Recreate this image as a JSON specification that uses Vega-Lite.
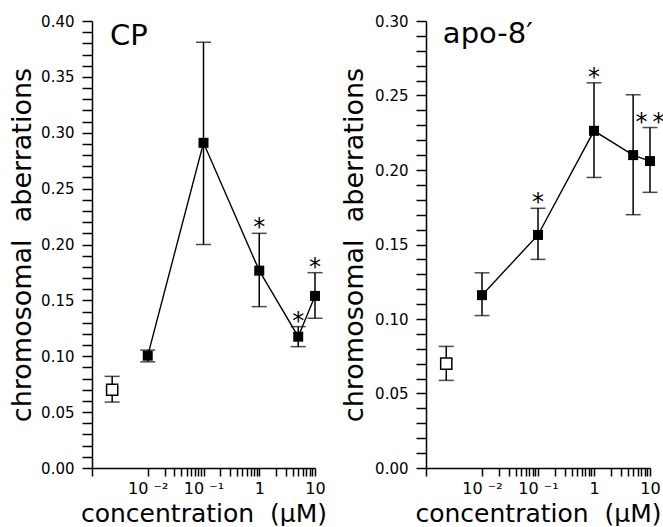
{
  "$schema": "https://vega.github.io/schema/vega-lite/v6.json",
  "padding": {"left": 8, "top": 14, "right": 0, "bottom": 0},
  "background": "white",
  "datasets": {
    "cp": [
      {"group": "control", "conc": 0.0023, "mean": 0.070, "lo": 0.059, "hi": 0.082, "star": ""},
      {"group": "treated", "conc": 0.01, "mean": 0.1005, "lo": 0.095, "hi": 0.1055, "star": ""},
      {"group": "treated", "conc": 0.1, "mean": 0.291, "lo": 0.200, "hi": 0.381, "star": ""},
      {"group": "treated", "conc": 1, "mean": 0.1766, "lo": 0.1444, "hi": 0.210, "star": "*"},
      {"group": "treated", "conc": 5, "mean": 0.1175, "lo": 0.1086, "hi": 0.1265, "star": "*"},
      {"group": "treated", "conc": 10, "mean": 0.154, "lo": 0.134, "hi": 0.1748, "star": "*"}
    ],
    "apo": [
      {"group": "control", "conc": 0.0023, "mean": 0.070, "lo": 0.0588, "hi": 0.0816, "star": ""},
      {"group": "treated", "conc": 0.01, "mean": 0.116, "lo": 0.1023, "hi": 0.131, "star": ""},
      {"group": "treated", "conc": 0.1, "mean": 0.1564, "lo": 0.140, "hi": 0.1743, "star": "*"},
      {"group": "treated", "conc": 1, "mean": 0.2263, "lo": 0.195, "hi": 0.2585, "star": "*"},
      {"group": "treated", "conc": 5, "mean": 0.210, "lo": 0.170, "hi": 0.2505, "star": ""},
      {"group": "treated", "conc": 10, "mean": 0.206, "lo": 0.185, "hi": 0.2285, "star": "*\u2009*"}
    ]
  },
  "hconcat": [
    {
      "width": 223,
      "height": 447,
      "data": {"name": "cp"},
      "layer": [
        {
          "mark": {"type": "rule", "strokeWidth": 1.5, "color": "black"},
          "encoding": {
            "x": {"field": "conc", "type": "quantitative", "scale": {"type": "log", "domain": [0.001, 10], "nice": false},
              "axis": {"orient": "bottom", "values": [0.001, 0.01, 0.02, 0.03, 0.04, 0.05, 0.06, 0.07, 0.08, 0.09, 0.1, 0.2, 0.3, 0.4, 0.5, 0.6, 0.7, 0.8, 0.9, 1, 2, 3, 4, 5, 6, 7, 8, 9, 10],
                "tickCount": 100,
                "labelExpr": "datum.value == 0.01 ? '10 ⁻²' : datum.value == 0.1 ? '10 ⁻¹' : datum.value == 1 ? '1' : datum.value == 10 ? '10' : ''",
                "tickSize": 8,
                "encode": {"ticks": {"y2": {"condition": {"test": "indexof([0.001, 0.01, 0.1, 1, 10], datum.value) >= 0", "value": 8}, "value": 5}}},
                "labelPadding": 4, "labelFontSize": 16, "labelFlush": false, "labelOverlap": false,
                "title": "concentration\u00a0 (µM)", "titleFontSize": 25, "titlePadding": 5}},
            "y": {"field": "lo", "type": "quantitative", "scale": {"domain": [0, 0.4], "nice": false, "zero": false},
              "axis": {"orient": "left", "values": [0, 0.01, 0.02, 0.03, 0.04, 0.05, 0.06, 0.07, 0.08, 0.09, 0.1, 0.11, 0.12, 0.13, 0.14, 0.15, 0.16, 0.17, 0.18, 0.19, 0.2, 0.21, 0.22, 0.23, 0.24, 0.25, 0.26, 0.27, 0.28, 0.29, 0.3, 0.31, 0.32, 0.33, 0.34, 0.35, 0.36, 0.37, 0.38, 0.39, 0.4],
                "tickCount": 100,
                "labelExpr": "abs(datum.value * 20 - round(datum.value * 20)) < 0.001 ? format(datum.value, '.2f') : ''",
                "tickSize": 10,
                "encode": {"ticks": {"x2": {"condition": {"test": "abs(datum.value * 20 - round(datum.value * 20)) < 0.001", "value": -10}, "value": -5}}},
                "labelPadding": 8, "labelFontSize": 15, "labelFlush": false, "labelOverlap": false,
                "title": "chromosomal\u00a0 aberrations", "titleFontSize": 27, "titlePadding": 4}},
            "y2": {"field": "hi"}
          }
        },
        {
          "mark": {"type": "tick", "orient": "horizontal", "size": 15, "thickness": 1.5, "color": "black"},
          "encoding": {
            "x": {"field": "conc", "type": "quantitative", "scale": {"type": "log", "domain": [0.001, 10], "nice": false}},
            "y": {"field": "hi", "type": "quantitative", "scale": {"domain": [0, 0.4], "nice": false, "zero": false}}
          }
        },
        {
          "mark": {"type": "tick", "orient": "horizontal", "size": 15, "thickness": 1.5, "color": "black"},
          "encoding": {
            "x": {"field": "conc", "type": "quantitative", "scale": {"type": "log", "domain": [0.001, 10], "nice": false}},
            "y": {"field": "lo", "type": "quantitative", "scale": {"domain": [0, 0.4], "nice": false, "zero": false}}
          }
        },
        {
          "transform": [{"filter": "datum.group == 'treated'"}],
          "mark": {"type": "line", "strokeWidth": 1.4, "color": "black"},
          "encoding": {
            "x": {"field": "conc", "type": "quantitative", "scale": {"type": "log", "domain": [0.001, 10], "nice": false}},
            "y": {"field": "mean", "type": "quantitative", "scale": {"domain": [0, 0.4], "nice": false, "zero": false}}
          }
        },
        {
          "transform": [{"filter": "datum.group == 'treated'"}],
          "mark": {"type": "point", "shape": "square", "size": 100, "filled": true, "color": "black", "opacity": 1},
          "encoding": {
            "x": {"field": "conc", "type": "quantitative", "scale": {"type": "log", "domain": [0.001, 10], "nice": false}},
            "y": {"field": "mean", "type": "quantitative", "scale": {"domain": [0, 0.4], "nice": false, "zero": false}}
          }
        },
        {
          "transform": [{"filter": "datum.group == 'control'"}],
          "mark": {"type": "point", "shape": "square", "size": 125, "filled": true, "fill": "white", "stroke": "black", "strokeWidth": 1.5, "opacity": 1},
          "encoding": {
            "x": {"field": "conc", "type": "quantitative", "scale": {"type": "log", "domain": [0.001, 10], "nice": false}},
            "y": {"field": "mean", "type": "quantitative", "scale": {"domain": [0, 0.4], "nice": false, "zero": false}}
          }
        },
        {
          "transform": [{"filter": "datum.star != ''"}],
          "mark": {"type": "text", "font": "DejaVu Sans", "fontSize": 24, "align": "center", "baseline": "alphabetic", "dy": 2, "fill": "black"},
          "encoding": {
            "x": {"field": "conc", "type": "quantitative", "scale": {"type": "log", "domain": [0.001, 10], "nice": false}},
            "y": {"field": "hi", "type": "quantitative", "scale": {"domain": [0, 0.4], "nice": false, "zero": false}},
            "text": {"field": "star"}
          }
        },
        {
          "data": {"values": [{"label": "CP", "lx": 0.0021, "ly": 0.3785}]},
          "mark": {"type": "text", "font": "DejaVu Sans", "fontSize": 29, "align": "left", "baseline": "alphabetic", "fill": "black"},
          "encoding": {
            "x": {"field": "lx", "type": "quantitative", "scale": {"type": "log", "domain": [0.001, 10], "nice": false}},
            "y": {"field": "ly", "type": "quantitative", "scale": {"domain": [0, 0.4], "nice": false, "zero": false}},
            "text": {"field": "label"}
          }
        }
      ]
    },
    {
      "width": 224,
      "height": 447,
      "data": {"name": "apo"},
      "layer": [
        {
          "mark": {"type": "rule", "strokeWidth": 1.5, "color": "black"},
          "encoding": {
            "x": {"field": "conc", "type": "quantitative", "scale": {"type": "log", "domain": [0.001, 10], "nice": false},
              "axis": {"orient": "bottom", "values": [0.001, 0.01, 0.02, 0.03, 0.04, 0.05, 0.06, 0.07, 0.08, 0.09, 0.1, 0.2, 0.3, 0.4, 0.5, 0.6, 0.7, 0.8, 0.9, 1, 2, 3, 4, 5, 6, 7, 8, 9, 10],
                "tickCount": 100,
                "labelExpr": "datum.value == 0.01 ? '10 ⁻²' : datum.value == 0.1 ? '10 ⁻¹' : datum.value == 1 ? '1' : datum.value == 10 ? '10' : ''",
                "tickSize": 8,
                "encode": {"ticks": {"y2": {"condition": {"test": "indexof([0.001, 0.01, 0.1, 1, 10], datum.value) >= 0", "value": 8}, "value": 5}}},
                "labelPadding": 4, "labelFontSize": 16, "labelFlush": false, "labelOverlap": false,
                "title": "concentration\u00a0 (µM)", "titleFontSize": 25, "titlePadding": 5}},
            "y": {"field": "lo", "type": "quantitative", "scale": {"domain": [0, 0.3], "nice": false, "zero": false},
              "axis": {"orient": "left", "values": [0, 0.01, 0.02, 0.03, 0.04, 0.05, 0.06, 0.07, 0.08, 0.09, 0.1, 0.11, 0.12, 0.13, 0.14, 0.15, 0.16, 0.17, 0.18, 0.19, 0.2, 0.21, 0.22, 0.23, 0.24, 0.25, 0.26, 0.27, 0.28, 0.29, 0.3],
                "tickCount": 100,
                "labelExpr": "abs(datum.value * 20 - round(datum.value * 20)) < 0.001 ? format(datum.value, '.2f') : ''",
                "tickSize": 10,
                "encode": {"ticks": {"x2": {"condition": {"test": "abs(datum.value * 20 - round(datum.value * 20)) < 0.001", "value": -10}, "value": -5}}},
                "labelPadding": 8, "labelFontSize": 15, "labelFlush": false, "labelOverlap": false,
                "title": "chromosomal\u00a0 aberrations", "titleFontSize": 27, "titlePadding": 6}},
            "y2": {"field": "hi"}
          }
        },
        {
          "mark": {"type": "tick", "orient": "horizontal", "size": 15, "thickness": 1.5, "color": "black"},
          "encoding": {
            "x": {"field": "conc", "type": "quantitative", "scale": {"type": "log", "domain": [0.001, 10], "nice": false}},
            "y": {"field": "hi", "type": "quantitative", "scale": {"domain": [0, 0.3], "nice": false, "zero": false}}
          }
        },
        {
          "mark": {"type": "tick", "orient": "horizontal", "size": 15, "thickness": 1.5, "color": "black"},
          "encoding": {
            "x": {"field": "conc", "type": "quantitative", "scale": {"type": "log", "domain": [0.001, 10], "nice": false}},
            "y": {"field": "lo", "type": "quantitative", "scale": {"domain": [0, 0.3], "nice": false, "zero": false}}
          }
        },
        {
          "transform": [{"filter": "datum.group == 'treated'"}],
          "mark": {"type": "line", "strokeWidth": 1.4, "color": "black"},
          "encoding": {
            "x": {"field": "conc", "type": "quantitative", "scale": {"type": "log", "domain": [0.001, 10], "nice": false}},
            "y": {"field": "mean", "type": "quantitative", "scale": {"domain": [0, 0.3], "nice": false, "zero": false}}
          }
        },
        {
          "transform": [{"filter": "datum.group == 'treated'"}],
          "mark": {"type": "point", "shape": "square", "size": 100, "filled": true, "color": "black", "opacity": 1},
          "encoding": {
            "x": {"field": "conc", "type": "quantitative", "scale": {"type": "log", "domain": [0.001, 10], "nice": false}},
            "y": {"field": "mean", "type": "quantitative", "scale": {"domain": [0, 0.3], "nice": false, "zero": false}}
          }
        },
        {
          "transform": [{"filter": "datum.group == 'control'"}],
          "mark": {"type": "point", "shape": "square", "size": 125, "filled": true, "fill": "white", "stroke": "black", "strokeWidth": 1.5, "opacity": 1},
          "encoding": {
            "x": {"field": "conc", "type": "quantitative", "scale": {"type": "log", "domain": [0.001, 10], "nice": false}},
            "y": {"field": "mean", "type": "quantitative", "scale": {"domain": [0, 0.3], "nice": false, "zero": false}}
          }
        },
        {
          "transform": [{"filter": "datum.star != ''"}],
          "mark": {"type": "text", "font": "DejaVu Sans", "fontSize": 24, "align": "center", "baseline": "alphabetic", "dy": 2, "fill": "black"},
          "encoding": {
            "x": {"field": "conc", "type": "quantitative", "scale": {"type": "log", "domain": [0.001, 10], "nice": false}},
            "y": {"field": "hi", "type": "quantitative", "scale": {"domain": [0, 0.3], "nice": false, "zero": false}},
            "text": {"field": "star"}
          }
        },
        {
          "data": {"values": [{"label": "apo-8′", "lx": 0.002, "ly": 0.2855}]},
          "mark": {"type": "text", "font": "DejaVu Sans", "fontSize": 29, "align": "left", "baseline": "alphabetic", "fill": "black"},
          "encoding": {
            "x": {"field": "lx", "type": "quantitative", "scale": {"type": "log", "domain": [0.001, 10], "nice": false}},
            "y": {"field": "ly", "type": "quantitative", "scale": {"domain": [0, 0.3], "nice": false, "zero": false}},
            "text": {"field": "label"}
          }
        }
      ]
    }
  ],
  "spacing": 13,
  "config": {
    "view": {"stroke": null},
    "font": "DejaVu Sans",
    "axis": {
      "grid": false,
      "labelOverlap": false,
      "domainColor": "black",
      "domainWidth": 1.5,
      "tickColor": "black",
      "tickWidth": 1.5,
      "labelColor": "black",
      "titleColor": "black",
      "labelFont": "DejaVu Sans",
      "titleFont": "DejaVu Sans",
      "titleFontWeight": "normal"
    }
  }
}
